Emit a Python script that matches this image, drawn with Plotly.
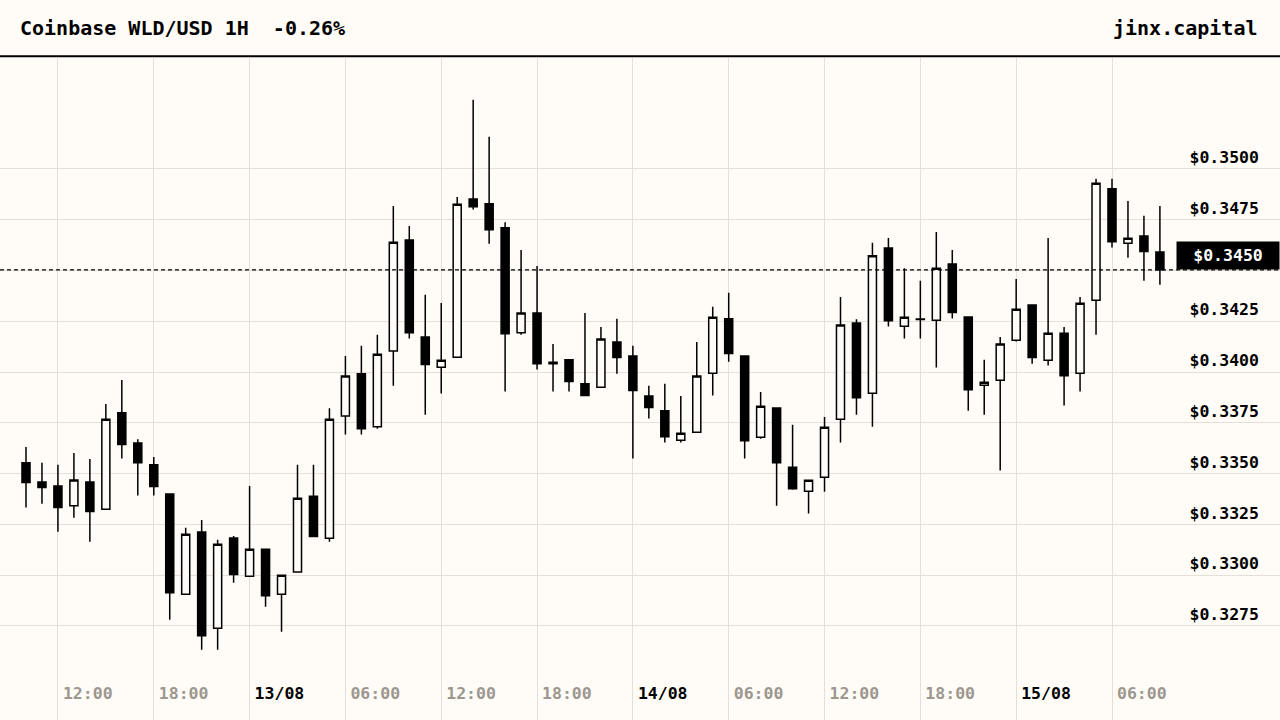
import plotly.graph_objects as go
import pandas as pd

# ---- data ----
times = pd.date_range("2024-08-12 10:00", periods=72, freq="h")

opens = [0.33553, 0.33459, 0.33439, 0.33342, 0.33459, 0.33325, 0.33799, 0.33651, 0.33543, 0.33400,
         0.32906, 0.33213, 0.32739, 0.33183, 0.32995, 0.33128, 0.32906, 0.33015, 0.33389, 0.33182,
         0.33783, 0.33991, 0.33731, 0.34103, 0.34650, 0.34173, 0.34024, 0.34073, 0.34852, 0.34828,
         0.34710, 0.34194, 0.34291, 0.34048, 0.34060, 0.33942, 0.33925, 0.34148, 0.34079, 0.33882,
         0.33809, 0.33664, 0.33704, 0.33994, 0.34262, 0.34079, 0.33679, 0.33823, 0.33531, 0.33413,
         0.33482, 0.33768, 0.34242, 0.33896, 0.34611, 0.34226, 0.34259, 0.34255, 0.34532, 0.34271,
         0.33935, 0.33960, 0.34157, 0.34330, 0.34058, 0.34191, 0.33994, 0.34354, 0.34902, 0.34634,
         0.34670, 0.34591]
highs = [0.33631, 0.33553, 0.33543, 0.33602, 0.33572, 0.33843, 0.33961, 0.33669, 0.33582, 0.33400,
         0.33233, 0.33272, 0.33174, 0.33193, 0.33439, 0.33128, 0.33000, 0.33543, 0.33543, 0.33822,
         0.34079, 0.34129, 0.34183, 0.34818, 0.34719, 0.34380, 0.34340, 0.34862, 0.35340, 0.35158,
         0.34738, 0.34601, 0.34522, 0.34138, 0.34060, 0.34291, 0.34222, 0.34262, 0.34129, 0.33932,
         0.33942, 0.33882, 0.34148, 0.34321, 0.34390, 0.34079, 0.33902, 0.33823, 0.33740, 0.33467,
         0.33779, 0.34370, 0.34260, 0.34636, 0.34660, 0.34511, 0.34449, 0.34690, 0.34601, 0.34271,
         0.34060, 0.34173, 0.34458, 0.34330, 0.34660, 0.34222, 0.34370, 0.34951, 0.34951, 0.34842,
         0.34769, 0.34818]
lows = [0.33333, 0.33352, 0.33214, 0.33283, 0.33165, 0.33325, 0.33574, 0.33392, 0.33392, 0.32781,
        0.32906, 0.32633, 0.32633, 0.32963, 0.32995, 0.32845, 0.32722, 0.33015, 0.33190, 0.33165,
        0.33692, 0.33692, 0.33721, 0.33933, 0.34165, 0.33790, 0.33894, 0.34073, 0.34800, 0.34632,
        0.33904, 0.34184, 0.34012, 0.33904, 0.33904, 0.33884, 0.33925, 0.33992, 0.33574, 0.33771,
        0.33653, 0.33653, 0.33704, 0.33884, 0.34051, 0.33574, 0.33672, 0.33342, 0.33421, 0.33303,
        0.33411, 0.33653, 0.33790, 0.33731, 0.34224, 0.34165, 0.34165, 0.34022, 0.34263, 0.33810,
        0.33790, 0.33515, 0.34150, 0.34041, 0.34032, 0.33835, 0.33904, 0.34184, 0.34613, 0.34563,
        0.34450, 0.34430]
closes = [0.33456, 0.33431, 0.33333, 0.33469, 0.33313, 0.33768, 0.33643, 0.33554, 0.33436, 0.32914,
          0.33202, 0.32702, 0.33152, 0.33003, 0.33128, 0.32899, 0.33000, 0.33379, 0.33190, 0.33768,
          0.33980, 0.33721, 0.34088, 0.34639, 0.34194, 0.34037, 0.34058, 0.34826, 0.34814, 0.34701,
          0.34189, 0.34291, 0.34041, 0.34041, 0.33953, 0.33884, 0.34163, 0.34071, 0.33909, 0.33825,
          0.33682, 0.33699, 0.33980, 0.34270, 0.34091, 0.33662, 0.33832, 0.33554, 0.33426, 0.33467,
          0.33728, 0.34231, 0.33874, 0.34572, 0.34253, 0.34270, 0.34261, 0.34511, 0.34293, 0.33913,
          0.33950, 0.34138, 0.34309, 0.34071, 0.34191, 0.33982, 0.34339, 0.34930, 0.34642, 0.34659,
          0.34593, 0.34503]

tick_times = ["2024-08-12 12:00", "2024-08-12 18:00", "2024-08-13 00:00", "2024-08-13 06:00",
              "2024-08-13 12:00", "2024-08-13 18:00", "2024-08-14 00:00", "2024-08-14 06:00",
              "2024-08-14 12:00", "2024-08-14 18:00", "2024-08-15 00:00", "2024-08-15 06:00"]
tick_labels = ["12:00", "18:00", "13/08", "06:00", "12:00", "18:00", "14/08", "06:00",
               "12:00", "18:00", "15/08", "06:00"]
price_ticks = [0.3275, 0.3300, 0.3325, 0.3350, 0.3375, 0.3400, 0.3425, 0.3450, 0.3475, 0.3500]

title_text = "Coinbase WLD/USD 1H  -0.26%"
brand_text = "jinx.capital"

# ---- style ----
BG = "#fffcf7"
GRID = "#e4e0d9"
INK = "#000000"
GRAY = "#9c978f"
FONT = "DejaVu Sans Mono"

tick_text = [
    (f'<span style="color:{INK}">{t}</span>' if "/" in t else f'<span style="color:{GRAY}">{t}</span>')
    for t in tick_labels
]

last = closes[-1]
# the last-price badge covers the price tick it sits on
price_text = ["" if abs(p - last) < 0.0012 else f"${p:.4f}" for p in price_ticks]

fig = go.Figure()
fig.add_trace(go.Candlestick(
    x=times, open=opens, high=highs, low=lows, close=closes,
    increasing=dict(line=dict(color=INK, width=1.5), fillcolor=BG),
    decreasing=dict(line=dict(color=INK, width=1.5), fillcolor=INK),
    whiskerwidth=0, hoverinfo="skip", showlegend=False,
))

fig.add_shape(type="line", xref="paper", x0=0, x1=1, yref="y", y0=last, y1=last,
              line=dict(color=INK, width=1.1, dash="4px,3px"), layer="above")
fig.add_shape(type="line", xref="paper", x0=0, x1=1, yref="paper", y0=1.0025, y1=1.0025,
              line=dict(color=INK, width=2), layer="above")

fig.add_annotation(xref="paper", x=1, xanchor="right", yref="y", y=last, yanchor="bottom",
                   text=f"${last:.4f}", showarrow=False, bgcolor=INK, borderpad=4,
                   width=94, height=19, align="center",
                   font=dict(family=FONT, size=16.5, color="#ffffff", weight="bold"))
fig.add_annotation(xref="paper", x=1, xanchor="right", xshift=-20,
                   yref="paper", y=1, yanchor="middle", yshift=30,
                   text=brand_text, showarrow=False,
                   font=dict(family=FONT, size=20, color=INK, weight="bold"))

fig.update_layout(
    width=1280, height=720,
    margin=dict(l=0, r=0, t=58, b=0),
    paper_bgcolor=BG, plot_bgcolor=BG,
    boxgap=0.28,
    title=dict(text=title_text, x=20/1280, xanchor="left", y=1-28/720, yanchor="middle",
               font=dict(family=FONT, size=20, color=INK, weight="bold")),
    font=dict(family=FONT, color=INK, weight="bold"),
    hovermode=False,
    xaxis=dict(
        range=["2024-08-12 08:22:20", "2024-08-15 16:31:10"],
        rangeslider=dict(visible=False),
        tickvals=tick_times, ticktext=tick_text,
        ticklabelposition="inside right", ticks="",
        ticklabelstandoff=12, ticklabelshift=5,
        tickfont=dict(family=FONT, size=16.5, weight="bold"),
        showgrid=True, gridcolor=GRID, gridwidth=1,
        zeroline=False, showline=False,
    ),
    yaxis=dict(
        side="right",
        range=[0.32287, 0.35546],
        tickvals=price_ticks, ticktext=price_text,
        ticklabelposition="inside top", ticks="",
        ticklabelstandoff=18,
        tickfont=dict(family=FONT, size=16.5, color=INK, weight="bold"),
        showgrid=True, gridcolor=GRID, gridwidth=1,
        zeroline=False, showline=False,
    ),
)

fig.write_html("out.html", config={"displayModeBar": False},
               post_script="document.body.style.margin='0';document.body.style.background='%s';" % BG)
